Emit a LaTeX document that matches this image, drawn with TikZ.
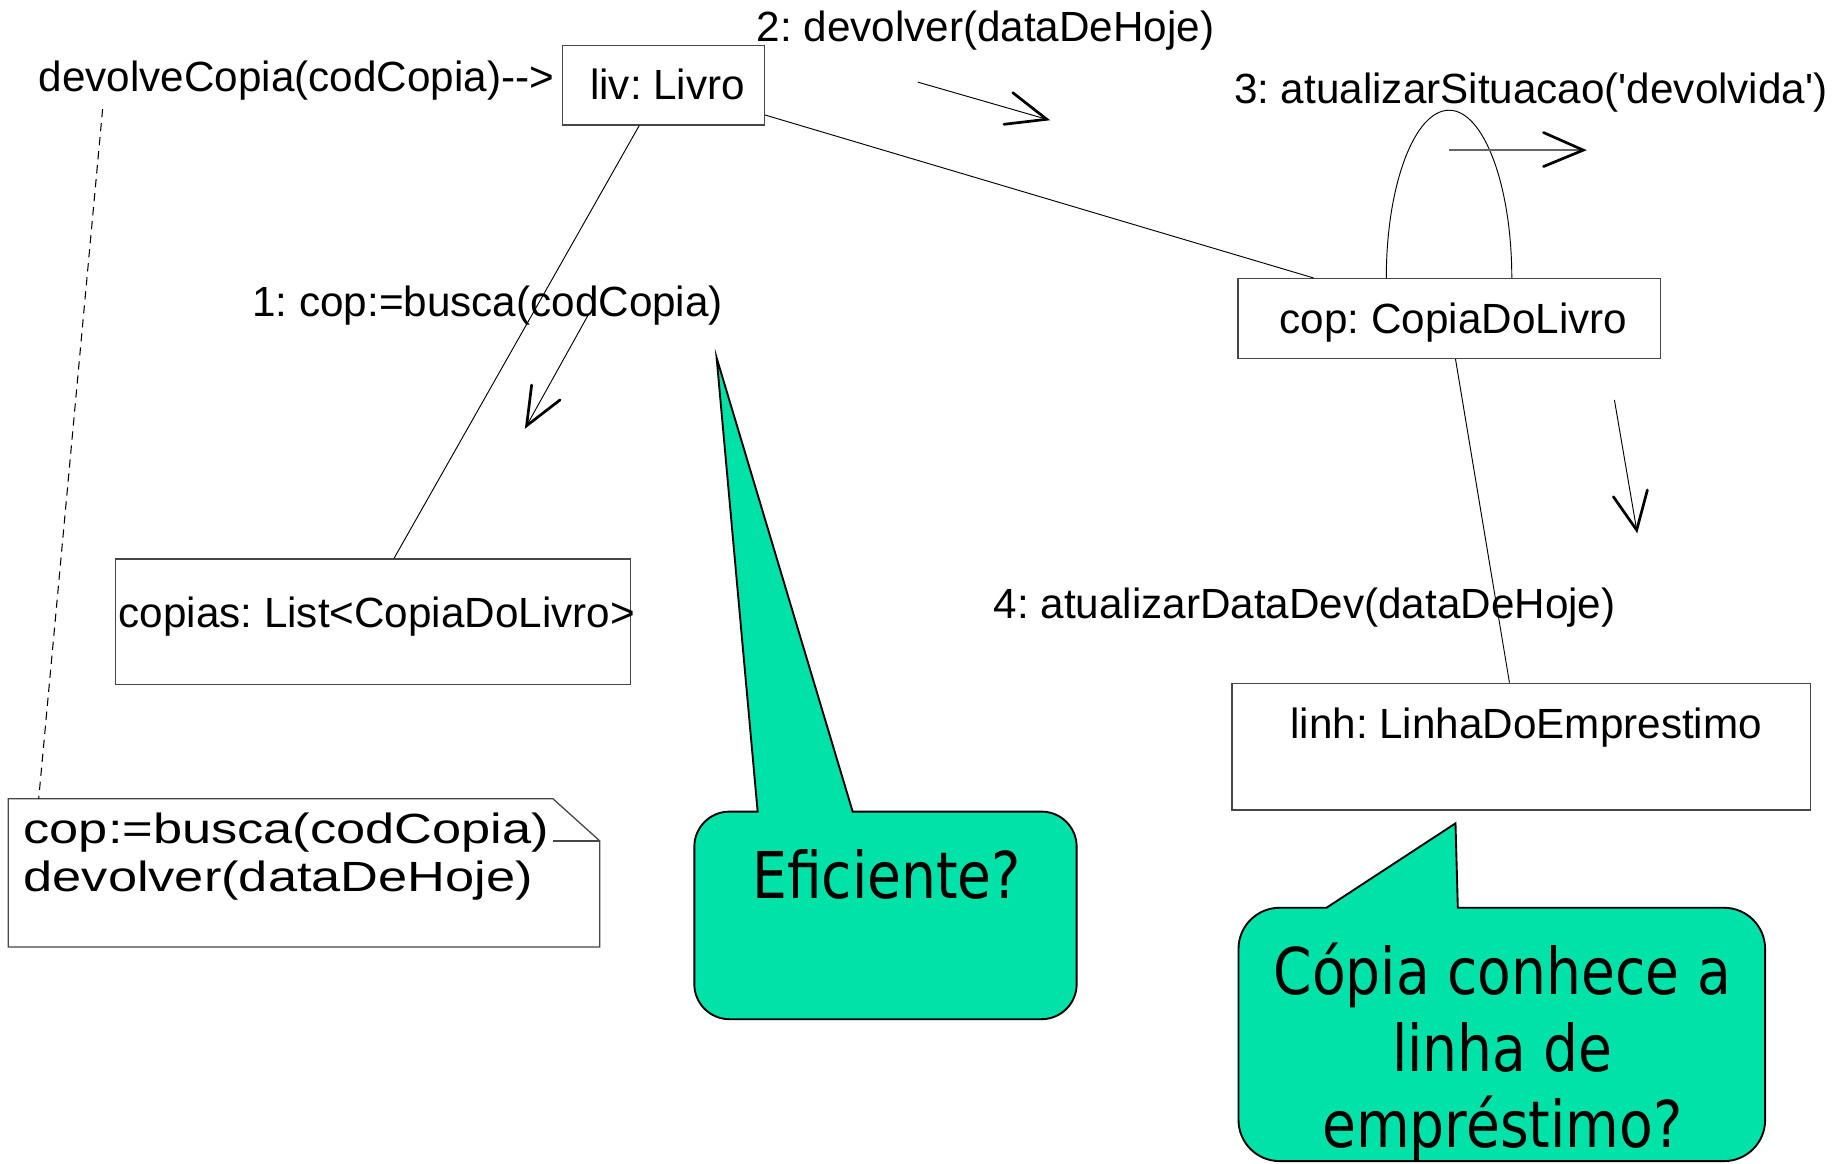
\documentclass[tikz,border=0pt]{standalone}
\usepackage{fontspec}
\setmainfont{Liberation Sans}[Ligatures=TeXOff]
\newfontfamily\bubblefont{DejaVu Sans}
\usetikzlibrary{calc}
\definecolor{bubblegreen}{RGB}{0,226,168}
\definecolor{boxgray}{RGB}{70,70,70}
\frenchspacing

\begin{document}
\begin{tikzpicture}[x=1pt,y=-1pt,
  objbox/.style={draw=boxgray, line width=1.1pt, inner sep=0pt, anchor=north west},
  lbl/.style={font=\fontsize{36}{43}\selectfont, inner sep=0pt, anchor=base west},
  notetext/.style={font=\fontsize{36}{43}\selectfont, inner sep=0pt, anchor=base west},
  link/.style={line width=0.8pt},
  shaft/.style={line width=0.8pt},
  barb/.style={line width=2.3pt, line cap=round, line join=miter},
  notebox/.style={draw=boxgray, line width=1.1pt},
  bubble/.style={draw=black, line width=1.6pt, fill=bubblegreen},
  bubbletext/.style={font=\bubblefont\fontsize{55}{65}\selectfont, inner sep=0pt, anchor=base},
]
\fill[white] (0,0) rectangle (1568,992);
\useasboundingbox (0,0) rectangle (1568,992);

% object boxes
\node[objbox, minimum width=172, minimum height=68] (liv) at (479,38) {};
\node[objbox, minimum width=360, minimum height=68] (cop) at (1055,237) {};
\node[objbox, minimum width=439, minimum height=107] (copias) at (98,476) {};
\node[objbox, minimum width=493, minimum height=108] (linh) at (1050,582) {};

% object names
\node[lbl] (livname) at (503,85) {liv: Livro};
\node[lbl] (copname) at (1091,284) {cop: CopiaDoLivro};
\node[lbl] (copiasname) at (101,535) {copias: List<CopiaDoLivro>};
\node[lbl] (linhname) at (1100,630) {linh: LinhaDoEmprestimo};

% links between objects
\draw[link] ([yshift=-60pt]liv.north east) -- ([xshift=65pt]cop.north west);
\draw[link] ([xshift=66pt]liv.south west) -- ([xshift=238pt]copias.north west);
\draw[link] ([xshift=186pt]cop.south west) -- ([xshift=237pt]linh.north west);
\coordinate (looptop) at (1235.5,94);
\draw[link] ([xshift=127pt]cop.north west) .. controls +(0,-79) and +(-29.5,0) .. (looptop)
  .. controls +(29.5,0) and +(0,-79) .. ([xshift=234pt]cop.north west);

% messages
\node[lbl] (call) at (33,78) {devolveCopia(codCopia)-->};
\node[lbl] (m2) at (645,35) {2: devolver(dataDeHoje)};
\node[lbl] (m3) at (1052,88) {3: atualizarSituacao('devolvida')};
\node[lbl] (m1) at (215,270) {1: cop:=busca(codCopia)};
\node[lbl] (m4) at (847,527) {4: atualizarDataDev(dataDeHoje)};

\coordinate (m2s) at (782.5,70);  \coordinate (m2t) at (892.5,101.7);
\draw[shaft] (m2s) -- (m2t);
\draw[barb] (863.5,79) -- (m2t) -- (856,106);

\coordinate (m3s) at (1235.6,128); \coordinate (m3t) at (1350,128);
\draw[line width=1.2pt, draw=black!60] (m3s) -- (m3t);
\draw[barb] (1316,113) -- (m3t) -- (1316,142);

\coordinate (m1s) at (501.5,268.6); \coordinate (m1t) at (449,363);
\draw[shaft] (m1s) -- (m1t);
\draw[barb] (453.3,328.3) -- (m1t) -- (477.5,341);

\coordinate (m4s) at (1376.5,341); \coordinate (m4t) at (1395.5,452);
\draw[shaft] (m4s) -- (m4t);
\draw[barb] (1375.6,423.5) -- (m4t) -- (1404.6,417.8);

% note with folded corner
\node[inner sep=0pt, minimum width=504, minimum height=126, anchor=north west] (note) at (7,681) {};
\draw[notebox] (note.north west) -- ([xshift=-40pt]note.north east) -- ([yshift=-36pt]note.north east)
  -- (note.south east) -- (note.south west) -- cycle;
\draw[notebox] ([xshift=-40pt,yshift=-36pt]note.north east) -- ([yshift=-36pt]note.north east);
\node[notetext] (nl1) at (20,719) {\scalebox{1.24}[1]{cop:=busca(codCopia)}};
\node[notetext] (nl2) at (20,760) {\scalebox{1.24}[1]{devolver(dataDeHoje)}};
\coordinate (callfoot) at (87.5,93);
\draw[line width=0.9pt, dash pattern=on 7pt off 5pt] (callfoot) -- ([xshift=26pt]note.north west);

% speech bubbles
\coordinate (eftip) at (611,305);
\draw[bubble] (646,692) -- (eftip) -- (727,692) -- (888,692)
  .. controls (904.6,692) and (918,705.4) .. (918,722) -- (918,839)
  .. controls (918,855.6) and (904.6,869) .. (888,869) -- (622,869)
  .. controls (605.4,869) and (592,855.6) .. (592,839) -- (592,722)
  .. controls (592,705.4) and (605.4,692) .. (622,692) -- cycle;
\node[bubbletext] (ef) at (756,766) {\scalebox{0.855}[1]{Eficiente?}};

\coordinate (cptip) at (1241,702);
\draw[bubble] (1131,774) -- (cptip) -- (1243,774) -- (1470,774)
  .. controls (1489.3,774) and (1505,789.7) .. (1505,809) -- (1505,955)
  .. controls (1505,974.3) and (1489.3,990) .. (1470,990) -- (1091,990)
  .. controls (1071.7,990) and (1056,974.3) .. (1056,955) -- (1056,809)
  .. controls (1056,789.7) and (1071.7,774) .. (1091,774) -- cycle;
\node[bubbletext] (cq1) at (1281,848) {\scalebox{0.855}[1]{Cópia conhece a}};
\node[bubbletext] (cq2) at (1281,914) {\scalebox{0.855}[1]{linha de}};
\node[bubbletext] (cq3) at (1281,978) {\scalebox{0.855}[1]{empréstimo?}};
\end{tikzpicture}
\end{document}
